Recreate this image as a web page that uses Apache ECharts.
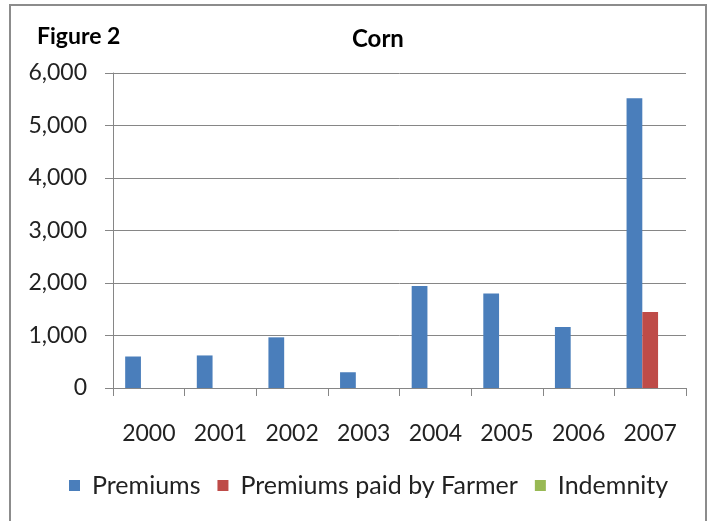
<!DOCTYPE html>
<html>
<head>
<meta charset="utf-8">
<script src="https://cdn.jsdelivr.net/npm/echarts@6/dist/echarts.min.js"></script>
<style>
  html, body {
    margin: 0;
    padding: 0;
    background: #ffffff;
  }
  .frame {
    position: absolute;
    left: 9px;
    top: 4px;
    width: 698px;
    height: 530px;
    border: 2px solid #8c8c8c;
    box-sizing: border-box;
  }
  #chart {
    position: absolute;
    left: 0;
    top: 0;
    width: 713px;
    height: 521px;
  }
</style>
</head>
<body>
<div class="frame"></div>
<div id="chart"></div>
<script>
// 年份
const years = ['2000', '2001', '2002', '2003', '2004', '2005', '2006', '2007']
// 三组柱子
const premiums = [600, 620, 965, 300, 1945, 1800, 1160, 5520]
const farmerPaid = [0, 0, 0, 0, 0, 0, 0, 1450]
const indemnity = [0, 0, 0, 0, 0, 0, 0, 0]
const seriesNames = ['Premiums', 'Premiums paid by Farmer', 'Indemnity']
const yTicks = [0, 1000, 2000, 3000, 4000, 5000, 6000]

const font = 'Lato, "Open Sans", sans-serif'
const gray = '#868686'

const chart = echarts.init(document.getElementById('chart'))
chart.setOption({
  animation: false,
  backgroundColor: 'transparent',
  textStyle: {
    fontFamily: font,
  },
  title: [
    {
      text: 'Figure 2',
      left: 32,
      top: 20,
      textStyle: {
        fontFamily: font,
        fontSize: 23,
        fontWeight: 'bold',
        color: '#000000',
      },
    },
    {
      text: 'Corn',
      left: 347,
      top: 22,
      textStyle: {
        fontFamily: font,
        fontSize: 24,
        fontWeight: 'bold',
        color: '#000000',
      },
    },
  ],
  legend: {
    data: seriesNames,
    left: 64,
    top: 468,
    icon: 'rect',
    itemWidth: 11,
    itemHeight: 11,
    itemGap: 17,
    textStyle: {
      fontFamily: font,
      fontSize: 25,
      color: '#222222',
      padding: [0, 0, 0, 7],
    },
  },
  grid: {
    left: 113,
    right: 27,
    top: 73,
    bottom: 133,
  },
  xAxis: {
    type: 'category',
    data: years,
    axisLine: {
      show: true,
      lineStyle: { color: gray, width: 1 },
    },
    axisTick: {
      show: true,
      length: 8,
      lineStyle: { color: gray },
    },
    axisLabel: {
      margin: 34,
      fontFamily: font,
      fontSize: 23,
      color: '#222222',
    },
  },
  yAxis: {
    type: 'value',
    min: yTicks[0],
    max: yTicks[yTicks.length - 1],
    interval: 1000,
    axisLine: {
      show: true,
      lineStyle: { color: gray, width: 1 },
    },
    axisTick: {
      show: true,
      length: 8,
      lineStyle: { color: gray },
    },
    splitLine: {
      show: true,
      lineStyle: { color: gray, width: 1 },
    },
    axisLabel: {
      margin: 26,
      fontFamily: font,
      fontSize: 23,
      color: '#222222',
      formatter: function (value) {
        return value.toLocaleString('en-US')
      },
    },
  },
  series: [
    {
      name: seriesNames[0],
      type: 'bar',
      data: premiums,
      barGap: '0%',
      barCategoryGap: '34%',
      itemStyle: { color: '#4a7ebb' },
    },
    {
      name: seriesNames[1],
      type: 'bar',
      data: farmerPaid,
      itemStyle: { color: '#be4b48' },
    },
    {
      name: seriesNames[2],
      type: 'bar',
      data: indemnity,
      itemStyle: { color: '#98b954' },
    },
  ],
})
</script>
</body>
</html>
